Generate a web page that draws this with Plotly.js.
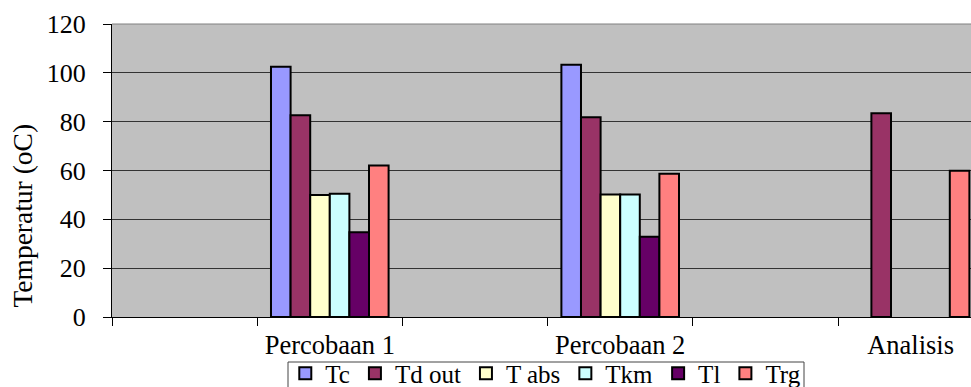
<!DOCTYPE html>
<html>
<head>
<meta charset="utf-8">
<script src="https://cdn.plot.ly/plotly-3.0.1.min.js"></script>
<style>
html,body{margin:0;padding:0;overflow:hidden;background:#fff;}
#chart{width:971px;height:387px;}
</style>
</head>
<body>
<div id="chart"></div>
<script>
// Categories (blank spacer categories between the labelled groups, as in the source sheet)
var categories = [" ", "Percobaan 1", "  ", "Percobaan 2", "   ", "Analisis"];
var seriesNames = ["Tc", "Td out", "T abs", "Tkm", "Tl", "Trg"];
var tc    = [null, 102.5, null, 103.3, null, null];
var tdOut = [null, 82.6,  null, 81.8,  null, 83.4];
var tAbs  = [null, 50,    null, 50.2,  null, null];
var tkm   = [null, 50.5,  null, 50.2,  null, null];
var tl    = [null, 34.7,  null, 32.9,  null, null];
var trg   = [null, 62,    null, 58.7,  null, 59.9];
var yTicks = [0, 20, 40, 60, 80, 100, 120];

var colors = ["#9999FF", "#993366", "#FFFFCC", "#CCFFFF", "#660066", "#FF8080"];
var values = [tc, tdOut, tAbs, tkm, tl, trg];

var font = "'Liberation Serif', 'Times New Roman', serif";

var traces = seriesNames.map(function(name, i){
  return {
    type: "bar",
    name: name,
    x: categories,
    y: values[i],
    marker: {color: colors[i], line: {color: "#000", width: 2}},
    hoverinfo: "skip"
  };
});

var layout = {
  width: 971,
  height: 387,
  margin: {l: 112, r: 0, t: 24, b: 70, autoexpand: false},
  paper_bgcolor: "#fff",
  plot_bgcolor: "#C0C0C0",
  barmode: "group",
  bargap: 0.19,
  bargroupgap: 0,
  font: {family: font, color: "#000", size: 26},
  showlegend: true,
  legend: {
    orientation: "h",
    x: 0.505, xanchor: "center",
    y: -0.114, yanchor: "top",
    bgcolor: "rgba(0,0,0,0)",
    borderwidth: 0,
    font: {family: font, size: 25, color: "#000"},
    traceorder: "normal",
    itemwidth: 30
  },
  xaxis: {
    type: "category",
    categoryorder: "array",
    categoryarray: categories,
    range: [-0.5, 5.416],
    tickson: "boundaries",
    ticks: "outside",
    ticklen: 8,
    tickcolor: "#000",
    showline: true,
    linecolor: "#000",
    linewidth: 1,
    showgrid: false,
    zeroline: false,
    ticklabelstandoff: 4,
    tickfont: {family: font, size: 26.5, color: "#000"},
    fixedrange: true
  },
  yaxis: {
    range: [0, 120],
    tickvals: yTicks,
    ticks: "outside",
    ticklen: 8,
    tickcolor: "#000",
    showline: true,
    linecolor: "#000",
    linewidth: 1,
    showgrid: true,
    gridcolor: "#333",
    gridwidth: 1,
    zeroline: false,
    ticklabelstandoff: 12,
    tickfont: {family: font, size: 26, color: "#000"},
    fixedrange: true
  },
  shapes: [
    {type: "line", xref: "paper", yref: "paper", x0: 0, x1: 1, y0: 1, y1: 1,
     line: {color: "#808080", width: 1}},
    {type: "rect", xref: "paper", yref: "paper", x0: 0.2049, x1: 0.8056, y0: -0.1536, y1: -0.26,
     line: {color: "#444", width: 1}, fillcolor: "rgba(0,0,0,0)"}
  ],
  annotations: [
    {text: "Temperatur (oC)", xref: "paper", yref: "paper", x: -0.104, y: 0.345,
     xanchor: "center", yanchor: "middle", textangle: -90, showarrow: false,
     font: {family: font, size: 27.5, color: "#000"}}
  ]
};

Plotly.newPlot("chart", traces, layout, {displayModeBar: false, staticPlot: true});
</script>
</body>
</html>
